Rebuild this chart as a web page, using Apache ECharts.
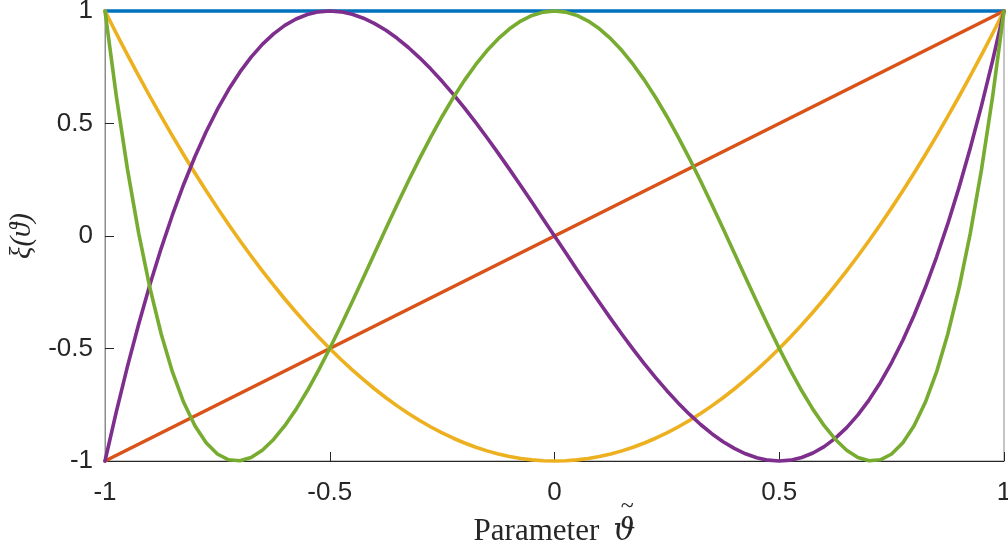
<!DOCTYPE html>
<html>
<head>
<meta charset="utf-8">
<script src="https://cdn.jsdelivr.net/npm/echarts@6/dist/echarts.min.js"></script>
<style>
  html, body { margin: 0; padding: 0; background: #ffffff; }
  #chart { width: 1008px; height: 549px; }
</style>
</head>
<body>
<div id="chart"></div>
<script>
// Sample positions of the parameter, from -1 to 1 in steps of 0.025
const xs = [
  -1, -0.975, -0.95, -0.925, -0.9, -0.875, -0.85, -0.825, -0.8, -0.775,
  -0.75, -0.725, -0.7, -0.675, -0.65, -0.625, -0.6, -0.575, -0.55, -0.525,
  -0.5, -0.475, -0.45, -0.425, -0.4, -0.375, -0.35, -0.325, -0.3, -0.275,
  -0.25, -0.225, -0.2, -0.175, -0.15, -0.125, -0.1, -0.075, -0.05, -0.025,
  0,
  0.025, 0.05, 0.075, 0.1, 0.125, 0.15, 0.175, 0.2, 0.225, 0.25,
  0.275, 0.3, 0.325, 0.35, 0.375, 0.4, 0.425, 0.45, 0.475, 0.5,
  0.525, 0.55, 0.575, 0.6, 0.625, 0.65, 0.675, 0.7, 0.725, 0.75,
  0.775, 0.8, 0.825, 0.85, 0.875, 0.9, 0.925, 0.95, 0.975, 1
];

// Constant and linear curves only need their end points
const xsEnds = [-1, 1];
const xi0 = [1, 1];
const xi1 = [-1, 1];

// Quadratic curve
const xi2 = [
  1, 0.90125, 0.805, 0.71125, 0.62, 0.53125, 0.445, 0.36125, 0.28, 0.20125,
  0.125, 0.05125, -0.02, -0.08875, -0.155, -0.21875, -0.28, -0.33875, -0.395, -0.44875,
  -0.5, -0.54875, -0.595, -0.63875, -0.68, -0.71875, -0.755, -0.78875, -0.82, -0.84875,
  -0.875, -0.89875, -0.92, -0.93875, -0.955, -0.96875, -0.98, -0.98875, -0.995, -0.99875,
  -1,
  -0.99875, -0.995, -0.98875, -0.98, -0.96875, -0.955, -0.93875, -0.92, -0.89875, -0.875,
  -0.84875, -0.82, -0.78875, -0.755, -0.71875, -0.68, -0.63875, -0.595, -0.54875, -0.5,
  -0.44875, -0.395, -0.33875, -0.28, -0.21875, -0.155, -0.08875, -0.02, 0.05125, 0.125,
  0.20125, 0.28, 0.36125, 0.445, 0.53125, 0.62, 0.71125, 0.805, 0.90125, 1
];

// Cubic curve
const xi3 = [
  -1, -0.7824, -0.5795, -0.3908, -0.216, -0.0547, 0.0935, 0.2289, 0.352, 0.4631,
  0.5625, 0.6507, 0.728, 0.7948, 0.8515, 0.8984, 0.936, 0.9646, 0.9845, 0.9962,
  1, 0.9963, 0.9855, 0.9679, 0.944, 0.9141, 0.8785, 0.8377, 0.792, 0.7418,
  0.6875, 0.6294, 0.568, 0.5036, 0.4365, 0.3672, 0.296, 0.2233, 0.1495, 0.0749,
  0,
  -0.0749, -0.1495, -0.2233, -0.296, -0.3672, -0.4365, -0.5036, -0.568, -0.6294, -0.6875,
  -0.7418, -0.792, -0.8377, -0.8785, -0.9141, -0.944, -0.9679, -0.9855, -0.9963, -1,
  -0.9962, -0.9845, -0.9646, -0.936, -0.8984, -0.8515, -0.7948, -0.728, -0.6507, -0.5625,
  -0.4631, -0.352, -0.2289, -0.0935, 0.0547, 0.216, 0.3908, 0.5795, 0.7824, 1
];

// Quartic curve
const xi4 = [
  1, 0.6245, 0.2961, 0.0118, -0.2312, -0.4355, -0.6040, -0.7390, -0.8432, -0.9190,
  -0.9688, -0.9947, -0.9992, -0.9842, -0.9520, -0.9043, -0.8432, -0.7705, -0.6880, -0.5972,
  -0.5, -0.3977, -0.2920, -0.1840, -0.0752, 0.0332, 0.1401, 0.2443, 0.3448, 0.4408,
  0.5313, 0.6155, 0.6928, 0.7625, 0.8241, 0.8770, 0.9208, 0.9553, 0.9801, 0.9950,
  1,
  0.9950, 0.9801, 0.9553, 0.9208, 0.8770, 0.8241, 0.7625, 0.6928, 0.6155, 0.5313,
  0.4408, 0.3448, 0.2443, 0.1401, 0.0332, -0.0752, -0.1840, -0.2920, -0.3977, -0.5,
  -0.5972, -0.6880, -0.7705, -0.8432, -0.9043, -0.9520, -0.9842, -0.9992, -0.9947, -0.9688,
  -0.9190, -0.8432, -0.7390, -0.6040, -0.4355, -0.2312, 0.0118, 0.2961, 0.6245, 1
];

const colors = ['#0072BD', '#D95319', '#EDB120', '#7E2F8E', '#77AC30'];
const xTitleWord = 'Parameter';
const xTitleSymbol = 'ϑ';
const yTitle = 'ξ(ϑ)';

function pairs(x, y) { return x.map((v, i) => [v, y[i]]); }
function tickText(v) { return String(v); }

const wordFont = { family: 'Liberation Serif', size: 31 };
const symbolFont = { family: 'DejaVu Serif', size: 31 };
const symbolGap = 14;
const tickFont = { fontFamily: 'Liberation Sans, Arial, sans-serif', fontSize: 26, color: '#262626' };
const xNameGap = 55;

const chart = echarts.init(document.getElementById('chart'), null, { renderer: 'canvas' });

const lineSeries = (data, color) => ({
  type: 'line',
  data: data,
  showSymbol: false,
  symbol: 'none',
  clip: false,
  lineStyle: { color: color, width: 3.6, join: 'round', cap: 'round' },
  emphasis: { disabled: true },
  animation: false
});

chart.setOption({
  animation: false,
  backgroundColor: '#ffffff',
  grid: {
    left: 105, right: 4, top: 11, bottom: 88,
    containLabel: false, outerBoundsMode: 'none',
    show: true, borderColor: '#8c8c8c', borderWidth: 1, backgroundColor: 'transparent'
  },
  xAxis: {
    type: 'value',
    min: -1, max: 1, interval: 0.5,
    name: '{a|' + xTitleWord + '}{b|' + xTitleSymbol + '}',
    nameLocation: 'middle',
    nameGap: xNameGap,
    nameTextStyle: {
      rich: {
        a: { fontFamily: wordFont.family, fontSize: wordFont.size, color: '#262626' },
        b: {
          fontFamily: symbolFont.family, fontStyle: 'italic', fontSize: symbolFont.size,
          color: '#262626', padding: [0, 0, 0, symbolGap]
        }
      }
    },
    axisLine: { show: true, onZero: false, lineStyle: { color: '#262626', width: 1 } },
    axisTick: { show: true, inside: true, length: 9, lineStyle: { color: '#262626', width: 1 } },
    axisLabel: Object.assign({ margin: 19, formatter: tickText }, tickFont),
    splitLine: { show: false }
  },
  yAxis: {
    type: 'value',
    min: -1, max: 1, interval: 0.5,
    name: yTitle,
    nameLocation: 'middle',
    nameRotate: 90,
    nameGap: 65,
    nameTextStyle: { fontFamily: 'Liberation Serif, DejaVu Serif, serif', fontStyle: 'italic', fontSize: 29, color: '#262626' },
    axisLine: { show: true, onZero: false, lineStyle: { color: '#8c8c8c', width: 1 } },
    axisTick: { show: true, inside: true, length: 9, lineStyle: { color: '#262626', width: 1 } },
    axisLabel: Object.assign({ margin: 12, formatter: tickText }, tickFont),
    splitLine: { show: false }
  },
  series: [
    lineSeries(pairs(xsEnds, xi0), colors[0]),
    lineSeries(pairs(xsEnds, xi1), colors[1]),
    lineSeries(pairs(xs, xi2), colors[2]),
    lineSeries(pairs(xs, xi3), colors[3]),
    lineSeries(pairs(xs, xi4), colors[4])
  ]
});

// Tilde accent over the parameter symbol in the x-axis title
(function addTilde() {
  const ctx = document.createElement('canvas').getContext('2d');
  ctx.font = wordFont.size + 'px "' + wordFont.family + '"';
  const wWord = ctx.measureText(xTitleWord).width;
  ctx.font = 'italic ' + symbolFont.size + 'px "' + symbolFont.family + '"';
  const wSym = ctx.measureText(xTitleSymbol).width;
  const total = wWord + symbolGap + wSym;
  const origin = chart.convertToPixel({ gridIndex: 0 }, [0, -1]);
  const nameTop = origin[1] + xNameGap;
  const symCentre = origin[0] + total / 2 - wSym / 2 + 3;
  chart.setOption({
    graphic: [{
      type: 'text',
      x: symCentre,
      y: nameTop - 9,
      silent: true,
      style: {
        text: '~',
        fontFamily: 'Liberation Serif',
        fontSize: 24,
        fill: '#262626',
        align: 'center',
        verticalAlign: 'middle'
      }
    }]
  });
})();
</script>
</body>
</html>
